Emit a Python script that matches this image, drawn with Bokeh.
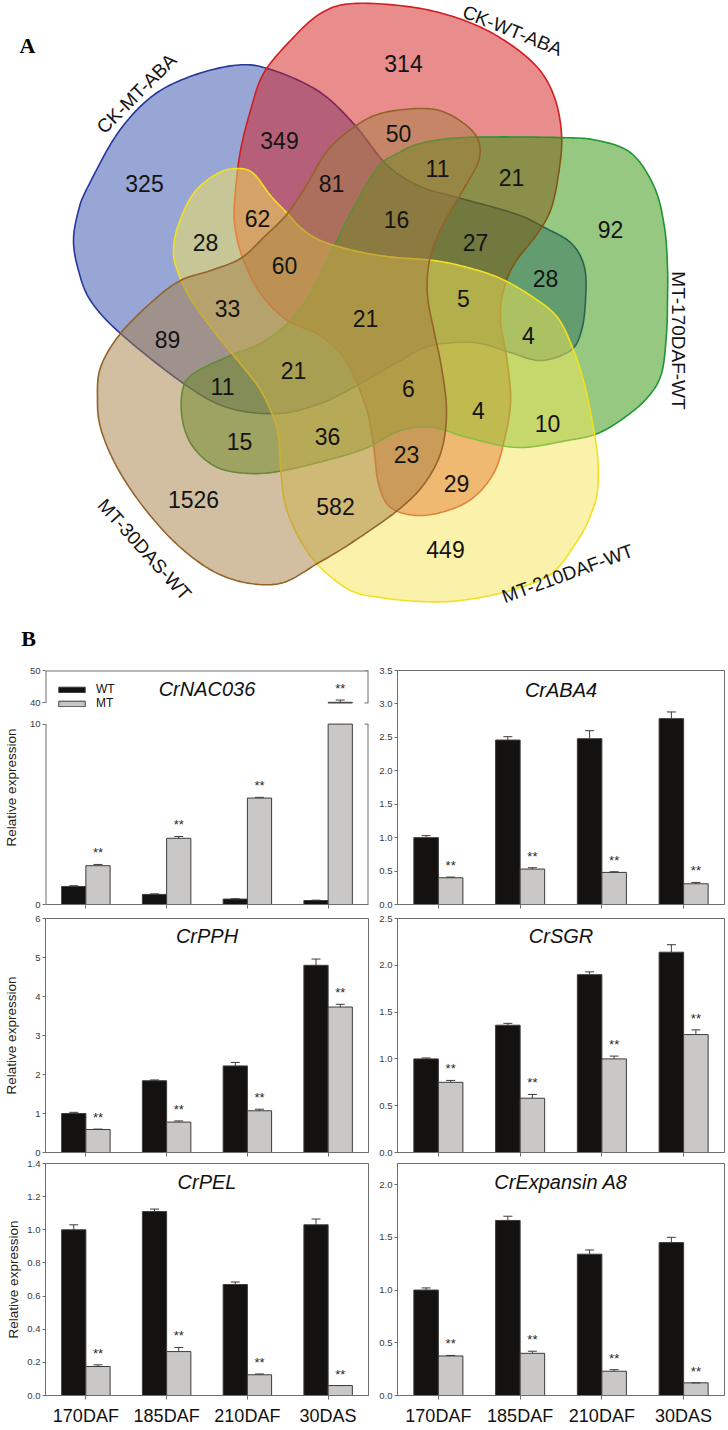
import numpy as np
from bokeh.plotting import figure
from bokeh.models import (ColumnDataSource, Range1d, FactorRange, FixedTicker, Whisker, TeeHead,
                          Legend, LegendItem, NumeralTickFormatter, CustomJSTickFormatter)
from bokeh.layouts import column, row
from bokeh.transform import dodge
from bokeh.core.properties import value
from bokeh.embed import file_html
from bokeh.resources import INLINE

# ---------------- data ----------------
set_names = ["CK-MT-ABA", "CK-WT-ABA", "MT-170DAF-WT", "MT-210DAF-WT", "MT-30DAS-WT"]
region_counts = [314, 325, 349, 81, 62, 28, 60, 50, 11, 21, 16, 27, 92, 28, 5, 33,
                 21, 4, 89, 21, 11, 6, 4, 10, 15, 36, 23, 29, 1526, 582, 449]

stages = ["170DAF", "185DAF", "210DAF", "30DAS"]
series = ["WT", "MT"]
genes = ["CrNAC036", "CrABA4", "CrPPH", "CrSGR", "CrPEL", "CrExpansin A8"]

nac_wt = [1.0, 0.56, 0.30, 0.22]
nac_wt_err = [0.04, 0.03, 0.02, 0.02]
nac_mt = [2.15, 3.67, 5.90, 40.2]
nac_mt_err = [0.07, 0.10, 0.04, 0.7]

aba_wt = [1.0, 2.46, 2.48, 2.78]
aba_wt_err = [0.03, 0.05, 0.12, 0.10]
aba_mt = [0.40, 0.53, 0.48, 0.31]
aba_mt_err = [0.01, 0.02, 0.01, 0.02]

pph_wt = [1.0, 1.84, 2.22, 4.80]
pph_wt_err = [0.03, 0.02, 0.09, 0.16]
pph_mt = [0.59, 0.78, 1.07, 3.73]
pph_mt_err = [0.01, 0.03, 0.04, 0.07]

sgr_wt = [1.0, 1.36, 1.90, 2.14]
sgr_wt_err = [0.01, 0.02, 0.03, 0.08]
sgr_mt = [0.75, 0.58, 1.00, 1.26]
sgr_mt_err = [0.02, 0.04, 0.03, 0.05]

pel_wt = [1.0, 1.11, 0.67, 1.03]
pel_wt_err = [0.03, 0.015, 0.015, 0.035]
pel_mt = [0.175, 0.265, 0.125, 0.06]
pel_mt_err = [0.01, 0.025, 0.005, 0.0]

exp_wt = [1.0, 1.66, 1.34, 1.45]
exp_wt_err = [0.02, 0.04, 0.04, 0.05]
exp_mt = [0.375, 0.40, 0.23, 0.12]
exp_mt_err = [0.005, 0.02, 0.015, 0.0]

mt_sig = ["**", "**", "**", "**"]

# ---------------- Venn layout (positions in picture pixels) ----------------
count_x = [403, 144, 279, 331, 257, 205, 284, 398, 437, 511, 396, 475, 610, 545, 463, 227,
           365, 528, 167, 293, 222, 408, 478, 547, 239, 327, 406, 456, 193, 335, 445]
count_y = [63, 183, 140, 183, 218, 242, 265, 133, 168, 177, 219, 242, 229, 278, 298, 308,
           318, 335, 339, 370, 386, 388, 410, 423, 441, 436, 454, 483, 499, 506, 549]
set_label_x = [136, 512, 678, 567, 144]
set_label_y = [93, 30, 340, 573, 549]
set_label_deg = [45, -22, -90, 20, -48]

outline_blue = [(233, 65), (267, 68), (317, 90), (353, 123), (387, 165), (420, 186), (457, 197),
                (514, 213), (544, 227), (571, 243), (584, 267), (585, 300), (581, 330), (570, 350),
                (540, 360), (507, 351), (480, 343), (455, 342), (427, 346), (400, 360), (360, 383),
                (320, 403), (277, 413), (227, 407), (183, 383), (120, 333), (90, 300), (78, 270),
                (73, 240), (78, 210), (87, 187), (117, 133), (150, 97), (187, 77)]
outline_red = [(353, 3), (414, 7), (464, 20), (504, 40), (537, 67), (554, 97), (561, 133), (559, 167),
               (551, 207), (537, 233), (514, 263), (503, 290), (500, 320), (507, 363), (510, 403),
               (503, 443), (493, 473), (473, 497), (447, 510), (417, 515), (390, 507), (378, 483),
               (373, 445), (365, 405), (345, 360), (320, 335), (287, 320), (260, 293), (242, 257),
               (234, 223), (235, 190), (240, 150), (250, 110), (263, 73), (290, 40), (320, 13)]
outline_green = [(420, 143), (464, 137), (557, 137), (597, 140), (631, 153), (654, 187), (664, 227),
                 (667, 267), (667, 300), (666, 333), (661, 373), (647, 397), (624, 417), (597, 433),
                 (567, 440), (517, 447), (467, 437), (433, 427), (400, 430), (367, 447), (333, 458),
                 (283, 470), (250, 473), (217, 467), (193, 447), (182, 420), (182, 390), (193, 373),
                 (230, 355), (260, 343), (290, 320), (313, 287), (333, 247), (353, 207), (377, 167),
                 (397, 153)]
outline_yellow = [(237, 168), (253, 173), (270, 195), (287, 213), (300, 227), (320, 240), (353, 250),
                  (387, 256), (433, 260), (467, 267), (500, 278), (533, 297), (557, 317), (572, 347),
                  (583, 380), (591, 417), (597, 455), (597, 490), (590, 515), (577, 540), (551, 573),
                  (510, 590), (460, 600), (420, 601), (380, 597), (350, 590), (320, 567), (300, 540),
                  (285, 505), (280, 467), (277, 430), (262, 393), (243, 367), (223, 343), (203, 317),
                  (187, 293), (178, 273), (173, 253), (177, 227), (193, 193), (217, 173)]
outline_brown = [(120, 333), (100, 367), (97, 400), (100, 427), (113, 460), (133, 493), (160, 527),
                 (187, 553), (217, 573), (250, 583), (283, 582), (317, 563), (350, 543), (397, 510),
                 (424, 483), (441, 450), (446, 410), (441, 367), (434, 333), (427, 295), (429, 260),
                 (441, 227), (464, 187), (479, 157), (474, 133), (447, 113), (420, 108), (380, 113),
                 (353, 127), (327, 150), (307, 183), (287, 213), (263, 237), (240, 258), (210, 270),
                 (180, 280), (153, 300)]

FONT = "Liberation Sans"


def smooth_closed(pts, n=14):
    P = np.asarray(pts, float)
    m = len(P)
    t = np.linspace(0, 1, n, endpoint=False)[:, None]
    segs = []
    for i in range(m):
        p0, p1, p2, p3 = P[i - 1], P[i], P[(i + 1) % m], P[(i + 2) % m]
        segs.append(0.5 * (2 * p1 + (-p0 + p2) * t + (2 * p0 - 5 * p1 + 4 * p2 - p3) * t ** 2
                           + (-p0 + 3 * p1 - 3 * p2 + p3) * t ** 3))
    s = np.vstack(segs)
    return s[:, 0].tolist(), s[:, 1].tolist()


# ---------------- Venn figure ----------------
TOTAL_W = 726
venn = figure(width=TOTAL_W, height=660, x_range=Range1d(0, TOTAL_W), y_range=Range1d(660, 0),
              x_axis_type=None, y_axis_type=None, output_backend="svg", toolbar_location=None,
              min_border=0, outline_line_color=None)

shapes = [(outline_blue, "#314DAD", "#26369A"),
          (outline_red, "#D11919", "#D21E23"),
          (outline_green, "#2D9105", "#1E9632"),
          (outline_yellow, "#F5E555", "#F2E01E"),
          (outline_brown, "#A57D41", "#94632A")]
for pts, fc, lc in shapes:
    xs, ys = smooth_closed(pts)
    venn.patch(xs, ys, fill_color=fc, fill_alpha=0.5, line_color=lc, line_width=1.6)

venn.text(x=count_x, y=count_y, text=[str(c) for c in region_counts], text_align="center",
          text_baseline="middle", text_font=value(FONT), text_font_size="23px", text_color="#141414")
venn.text(x=set_label_x, y=set_label_y, text=set_names, angle=np.radians(set_label_deg).tolist(),
          text_align="center", text_baseline="middle", text_font=value(FONT), text_font_size="19px",
          text_color="#141414")
venn.text(x=[27, 28], y=[45, 638], text=["A", "B"], text_align="center", text_baseline="middle",
          text_font=value("Liberation Serif"), text_font_style="bold", text_font_size="22px",
          text_color="#000000")

# ---------------- bar panels ----------------
WT_FILL = "#141210"
MT_FILL = "#CAC7C7"
BAR_EDGE = "#3c3c3c"
FRAME = "#6e6e6e"
TICK_TXT = "#3a3a3a"
LW, RW = 372, TOTAL_W - 372
FRAME_H = 234


def base_fig(y0, y1, w, h, bl, br, bt, bb, outline=True):
    p = figure(x_range=FactorRange(factors=stages, range_padding=0), y_range=Range1d(y0, y1),
               width=w, height=h, output_backend="svg", toolbar_location=None,
               min_border_left=bl, min_border_right=br, min_border_top=bt, min_border_bottom=bb)
    for g in p.grid:
        g.visible = False
    p.outline_line_color = FRAME if outline else None
    return p


def style_y(axis, ticks, fmt=None):
    axis.ticker = FixedTicker(ticks=ticks)
    if fmt is not None:
        axis.formatter = NumeralTickFormatter(format=fmt)
    axis.major_tick_out = 3
    axis.major_tick_in = 0
    axis.minor_tick_line_color = None
    axis.major_label_standoff = 2
    axis.major_label_text_font = FONT
    axis.major_label_text_font_size = "9.5px"
    axis.major_label_text_color = TICK_TXT
    axis.axis_line_color = FRAME
    axis.major_tick_line_color = FRAME


def style_x(axis, show):
    axis.major_tick_out = 4
    axis.major_tick_in = 0
    axis.major_label_standoff = 6
    axis.major_label_text_font = FONT
    axis.major_label_text_font_size = "18px"
    axis.major_label_text_color = "#111111" if show else None
    axis.axis_line_color = FRAME
    axis.major_tick_line_color = FRAME


def add_ylabel(p, standoff):
    ax = p.yaxis[0]
    ax.axis_label = "Relative expression"
    ax.axis_label_standoff = standoff
    ax.axis_label_text_font = FONT
    ax.axis_label_text_font_style = "normal"
    ax.axis_label_text_font_size = "13.5px"
    ax.axis_label_text_color = "#222222"


def draw_bars(p, wt, wte, mt, mte, ymap=lambda v: v, clip_top=None):
    top_cap = (lambda v: min(v, clip_top)) if clip_top is not None else (lambda v: v)
    src = ColumnDataSource(dict(
        stage=stages,
        wt=[top_cap(ymap(v)) for v in wt],
        mt=[top_cap(ymap(v)) for v in mt],
        wt_lo=[ymap(v) for v in wt],
        mt_lo=[ymap(v) for v in mt],
        wt_hi=[ymap(a + b) for a, b in zip(wt, wte)],
        mt_hi=[ymap(a + b) for a, b in zip(mt, mte)],
        sig=mt_sig))
    xw = dodge("stage", -0.15, range=p.x_range)
    xm = dodge("stage", 0.15, range=p.x_range)
    rw = p.vbar(x=xw, top="wt", width=0.3, source=src, fill_color=WT_FILL, line_color=BAR_EDGE,
                line_width=1)
    rm = p.vbar(x=xm, top="mt", width=0.3, source=src, fill_color=MT_FILL, line_color=BAR_EDGE,
                line_width=1)
    for xx, lo, hi in ((xw, "wt_lo", "wt_hi"), (xm, "mt_lo", "mt_hi")):
        p.add_layout(Whisker(source=src, base=xx, lower=lo, upper=hi, line_color=BAR_EDGE,
                             line_width=1, level="glyph",
                             upper_head=TeeHead(size=9, line_color=BAR_EDGE, line_width=1),
                             lower_head=None))
    p.text(x=xm, y="mt_hi", text="sig", source=src, text_align="center", text_baseline="bottom",
           y_offset=-4, text_font=value(FONT), text_font_size="13px", text_color="#2a2a2a")
    return rw, rm, src


def add_title(p, text, y0, y1, below_top=18):
    yt = y1 - below_top * (y1 - y0) / FRAME_H
    p.text(x=[2.0], y=[yt], text=[text], text_align="center", text_baseline="middle",
           text_font=value(FONT), text_font_style="italic", text_font_size="20px",
           text_color="#111111")


# ---- CrNAC036: broken axis (0-10 below, 40-50 above) in one frame ----
NAC_LOW_MAX, NAC_UP_MIN, NAC_UP_MAX = 10.0, 40.0, 50.0
NAC_UP_START, NAC_UP_SCALE = 11.17, 0.18
NAC_TOP = NAC_UP_START + (NAC_UP_MAX - NAC_UP_MIN) * NAC_UP_SCALE


def nac_map(v):
    return v if v <= NAC_LOW_MAX else NAC_UP_START + (v - NAC_UP_MIN) * NAC_UP_SCALE


nac = base_fig(0, NAC_TOP, LW, 251, 43, 4, 10, 7, outline=False)
style_y(nac.yaxis[0], [0, NAC_LOW_MAX, NAC_UP_START, NAC_TOP])
nac.yaxis[0].formatter = CustomJSTickFormatter(
    args=dict(lo=NAC_LOW_MAX, st=NAC_UP_START, sc=NAC_UP_SCALE, m=NAC_UP_MIN),
    code="return tick > lo + 0.5 ? ((tick - st) / sc + m).toFixed(0) : tick.toFixed(0);")
nac.yaxis[0].axis_line_color = None
style_x(nac.xaxis[0], False)
add_ylabel(nac, 8)
rw_n, rm_n, _ = draw_bars(nac, nac_wt, nac_wt_err, nac_mt, nac_mt_err, ymap=nac_map,
                          clip_top=NAC_LOW_MAX)
# upper pieces of bars that pass the break
up = [(s, nac_map(v)) for s, v in zip(stages, nac_mt) if v > NAC_LOW_MAX]
nac.vbar(x=dodge("stage", 0.15, range=nac.x_range), bottom=NAC_UP_START, top="top", width=0.3,
         source=ColumnDataSource(dict(stage=[u[0] for u in up], top=[u[1] for u in up])),
         fill_color=MT_FILL, line_color=BAR_EDGE, line_width=1)
# frame pieces of the broken box
nx = len(stages)
nac.segment(x0=[0, 0, nx, nx, 0], y0=[0, NAC_UP_START, 0, NAC_UP_START, NAC_TOP],
            x1=[0, 0, nx, nx, nx], y1=[NAC_LOW_MAX, NAC_TOP, NAC_LOW_MAX, NAC_TOP, NAC_TOP],
            line_color=FRAME, line_width=2)
tick_len = 4.0 / 81.0
nac.segment(x0=[nx - tick_len] * 3, x1=[nx] * 3, y0=[NAC_LOW_MAX, NAC_UP_START, NAC_TOP],
            y1=[NAC_LOW_MAX, NAC_UP_START, NAC_TOP], line_color=FRAME, line_width=1)
add_title(nac, genes[0], 0, NAC_TOP)
legend = Legend(items=[LegendItem(label=series[0], renderers=[rw_n]),
                       LegendItem(label=series[1], renderers=[rm_n])],
                location=(10, 194), orientation="vertical", glyph_width=33, glyph_height=7,
                label_standoff=8, spacing=0, padding=0, margin=0, border_line_color=None,
                background_fill_alpha=0, label_text_font=FONT, label_text_font_size="12px",
                label_height=12, label_text_color="#111111")
nac.add_layout(legend)

# ---- CrABA4 ----
aba = base_fig(0, 3.5, RW, 251, 25, 2, 10, 7)
style_y(aba.yaxis[0], [0, 0.5, 1.0, 1.5, 2.0, 2.5, 3.0, 3.5], "0.0")
style_x(aba.xaxis[0], False)
draw_bars(aba, aba_wt, aba_wt_err, aba_mt, aba_mt_err)
add_title(aba, genes[1], 0, 3.5, 19)

# ---- CrPPH ----
pph = base_fig(0, 6, LW, 247, 43, 4, 7, 6)
style_y(pph.yaxis[0], [0, 1, 2, 3, 4, 5, 6], "0")
style_x(pph.xaxis[0], False)
add_ylabel(pph, 13)
draw_bars(pph, pph_wt, pph_wt_err, pph_mt, pph_mt_err)
add_title(pph, genes[2], 0, 6, 17)

# ---- CrSGR ----
sgr = base_fig(0, 2.5, RW, 247, 25, 2, 7, 6)
style_y(sgr.yaxis[0], [0, 0.5, 1.0, 1.5, 2.0, 2.5], "0.0")
style_x(sgr.xaxis[0], False)
draw_bars(sgr, sgr_wt, sgr_wt_err, sgr_mt, sgr_mt_err)
add_title(sgr, genes[3], 0, 2.5, 17)

# ---- CrPEL ----
pel = base_fig(0, 1.4, LW, 270, 43, 4, 5, 31)
style_y(pel.yaxis[0], [0, 0.2, 0.4, 0.6, 0.8, 1.0, 1.2, 1.4], "0.0")
style_x(pel.xaxis[0], True)
add_ylabel(pel, 3)
draw_bars(pel, pel_wt, pel_wt_err, pel_mt, pel_mt_err)
add_title(pel, genes[4], 0, 1.4, 19)

# ---- CrExpansin A8 ----
exa = base_fig(0, 2.2, RW, 270, 25, 2, 5, 31)
style_y(exa.yaxis[0], [0, 0.5, 1.0, 1.5, 2.0], "0.0")
style_x(exa.xaxis[0], True)
draw_bars(exa, exp_wt, exp_wt_err, exp_mt, exp_mt_err)
add_title(exa, genes[5], 0, 2.2, 19)

left_col = column(nac, pph, pel, spacing=0)
right_col = column(aba, sgr, exa, spacing=0)
layout = column(venn, row(left_col, right_col, spacing=0), spacing=0)

open("out.html", "w").write(file_html(layout, INLINE))
